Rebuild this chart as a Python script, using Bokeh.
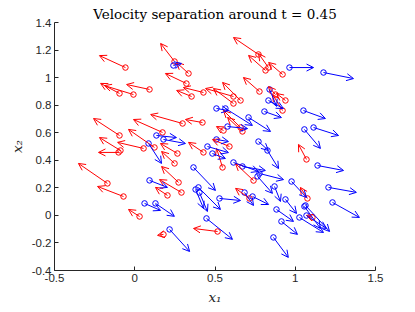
from bokeh.plotting import figure
from bokeh.models import ColumnDataSource, Arrow, OpenHead, Range1d, FixedTicker
from bokeh.embed import file_html
from bokeh.resources import INLINE

# ---- data: start points (x, y) and velocity components (u, v) ----
red_x = [-0.058, 0.092, -0.008, -0.095, 0.173, 0.298, 0.422, -0.095, -0.089, 0.055,
         -0.101, -0.170, -0.070, 0.030, 0.179, 0.248, 0.335, 0.322, 0.354, 0.428,
         0.771, 0.815, 0.921, 0.833, 0.659, 0.615, 0.615, 0.777, 0.877, 0.939,
         0.921, 0.659, 0.671, 0.553, 0.123, 0.266, 0.248, 0.273, 0.291, 0.204,
         0.428, 0.590, 0.547, 0.740, 0.715, 0.516, 1.070, 1.076, 1.107]
red_y = [1.073, 0.914, 0.877, 0.885, 0.602, 0.667, 0.674, 0.580, 0.471, 0.486,
         0.457, 0.232, 0.137, -0.008, -0.138, 1.117, 1.030, 0.957, 0.863, 0.892,
         1.168, 1.052, 1.023, 1.073, 0.834, 0.863, 0.812, 0.899, 0.877, 0.834,
         0.761, 0.638, 0.609, 0.616, 0.493, 0.449, 0.377, 0.239, 0.166, 0.145,
         0.457, 0.500, 0.348, 0.253, 0.123, -0.117, 0.406, 0.123, -0.015]
red_u = [-0.162, -0.143, -0.181, -0.118, -0.181, -0.199, -0.106, -0.162, -0.131, -0.162,
         -0.125, -0.181, -0.162, -0.069, -0.037, -0.087, -0.075, -0.131, -0.093, -0.125,
         -0.156, -0.106, -0.087, -0.062, -0.112, -0.174, -0.125, -0.100, -0.044, -0.056,
         -0.062, -0.106, -0.093, -0.044, -0.162, -0.106, -0.081, -0.106, -0.137, -0.075,
         -0.093, -0.106, -0.037, -0.112, -0.087, -0.150, -0.050, -0.044, -0.037]
red_v = [0.087, 0.036, 0.065, 0.073, 0.094, 0.065, 0.022, 0.123, 0.094, 0.044,
         0.000, 0.145, 0.073, 0.051, -0.007, 0.131, 0.080, 0.073, 0.044, 0.036,
         0.123, 0.109, 0.087, 0.102, 0.131, 0.058, 0.109, 0.102, 0.058, 0.051,
         0.116, 0.123, 0.102, 0.029, 0.131, 0.073, 0.087, 0.116, 0.094, 0.058,
         0.073, 0.051, 0.138, 0.123, 0.073, 0.022, 0.109, 0.080, 0.015]

blue_x = [0.241, 0.135, 0.179, 0.086, 0.092, 0.061, 0.129, 0.217, 0.366, 0.379,
          0.397, 0.403, 0.528, 0.447, 0.509, 0.565, 0.709, 0.578, 0.808, 1.051,
          1.114, 1.057, 0.964, 1.176, 0.840, 0.833, 0.509, 0.453, 0.484, 0.615,
          0.671, 0.765, 0.777, 0.827, 1.139, 0.977, 0.871, 1.207, 1.232, 0.684,
          0.734, 0.939, 0.883, 0.914, 1.026, 1.064, 1.070, 1.057, 0.864, 0.771]
blue_y = [1.088, 0.580, 0.551, 0.522, 0.254, 0.087, 0.087, -0.102, 0.348, 0.188,
          0.203, 0.166, 0.123, -0.022, 0.776, 0.776, 0.711, 0.645, 0.754, 0.761,
          0.638, 0.624, 1.073, 1.037, 0.914, 0.834, 0.551, 0.500, 0.449, 0.384,
          0.355, 0.283, 0.304, 0.471, 0.362, 0.246, 0.210, 0.203, 0.094, 0.166,
          0.137, 0.116, 0.043, -0.044, -0.015, 0.072, -0.001, 0.065, -0.160, 0.536]
blue_u = [0.050, 0.125, 0.137, 0.081, 0.112, 0.100, 0.118, 0.125, 0.137, 0.050,
          0.137, 0.050, 0.131, 0.162, 0.075, 0.168, 0.137, 0.125, 0.106, 0.137,
          0.156, 0.100, 0.150, 0.187, 0.044, 0.093, 0.075, 0.131, 0.081, 0.156,
          0.143, 0.093, 0.150, 0.069, 0.162, 0.093, 0.037, 0.174, 0.168, 0.056,
          0.100, 0.069, 0.106, 0.100, 0.150, 0.150, 0.125, 0.100, 0.093, 0.062]
blue_v = [0.015, -0.015, -0.029, -0.145, -0.051, -0.051, -0.094, -0.160, -0.167, -0.138,
          -0.160, -0.138, -0.015, -0.152, -0.015, -0.123, -0.102, -0.015, -0.044, -0.058,
          -0.058, -0.138, 0.000, -0.044, -0.123, -0.058, -0.015, -0.044, -0.036, -0.065,
          -0.029, -0.123, -0.044, -0.131, -0.036, -0.116, -0.109, -0.036, -0.109, -0.094,
          -0.058, -0.102, -0.087, -0.094, -0.109, -0.189, -0.094, -0.160, -0.145, -0.065]

x_ticks = [-0.5, 0, 0.5, 1, 1.5]
x_labels = ["-0.5", "0", "0.5", "1", "1.5"]
y_ticks = [-0.4, -0.2, 0, 0.2, 0.4, 0.6, 0.8, 1, 1.2, 1.4]
y_labels = ["-0.4", "-0.2", "0", "0.2", "0.4", "0.6", "0.8", "1", "1.2", "1.4"]

AX = "#262626"

p = figure(frame_width=321, frame_height=248,
           x_range=Range1d(-0.5, 1.5), y_range=Range1d(-0.4, 1.4),
           output_backend="svg", toolbar_location=None,
           min_border_left=54, min_border_right=40, min_border_top=22, min_border_bottom=42)

p.title.text = "Velocity separation around t = 0.45"
p.title.align = "center"
p.title.text_font = "DejaVu Serif"
p.title.text_font_style = "normal"
p.title.text_font_size = "13.5px"
p.title.text_color = "black"
p.title.standoff = 2

p.outline_line_color = None
p.xgrid.visible = False
p.ygrid.visible = False

for ax, ticks, labels in ((p.xaxis[0], x_ticks, x_labels), (p.yaxis[0], y_ticks, y_labels)):
    ax.ticker = FixedTicker(ticks=ticks)
    ax.major_label_overrides = {t: l for t, l in zip(ticks, labels)}
    ax.major_tick_in = 4
    ax.major_tick_out = 0
    ax.minor_tick_line_color = None
    ax.axis_line_color = AX
    ax.major_tick_line_color = AX
    ax.major_label_text_color = AX
    ax.major_label_text_font = "Liberation Sans"
    ax.major_label_text_font_size = "11.5px"
    ax.major_label_standoff = 3
    ax.axis_label_text_font = "DejaVu Serif"
    ax.axis_label_text_font_style = "italic"
    ax.axis_label_text_font_size = "13.5px"
    ax.axis_label_text_color = AX
    ax.axis_label_standoff = 4

p.xaxis.axis_label = "x\u2081"
p.yaxis.axis_label = "x\u2082"


def draw(xs, ys, us, vs, color):
    src = ColumnDataSource(dict(x0=xs, y0=ys,
                                x1=[a + b for a, b in zip(xs, us)],
                                y1=[a + b for a, b in zip(ys, vs)]))
    p.add_layout(Arrow(end=OpenHead(size=7, line_color=color, line_width=1),
                       x_start="x0", y_start="y0", x_end="x1", y_end="y1",
                       source=src, line_color=color, line_width=1))
    p.scatter("x0", "y0", source=src, marker="circle", size=5.5,
              fill_color=None, line_color=color, line_width=1)


draw(red_x, red_y, red_u, red_v, "red")
draw(blue_x, blue_y, blue_u, blue_v, "blue")

open("out.html", "w").write(file_html(p, INLINE))
